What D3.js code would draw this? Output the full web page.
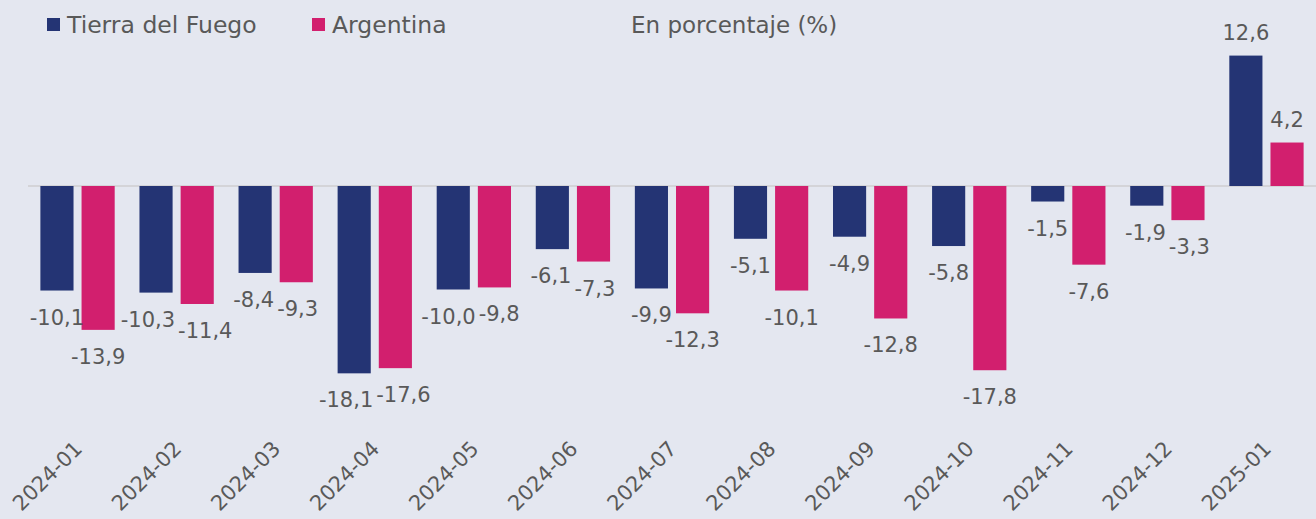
<!DOCTYPE html>
<html><head><meta charset="utf-8">
<script src="https://cdn.jsdelivr.net/npm/d3@7"></script>
<style>
html,body{margin:0;padding:0;background:#e4e7f0;}
svg{display:block;}
text{font-family:"DejaVu Sans",sans-serif;fill:#595959;}
</style></head><body>
<svg id="c" width="1316" height="519"></svg>
<script>
const categories = ["2024-01","2024-02","2024-03","2024-04","2024-05","2024-06","2024-07","2024-08","2024-09","2024-10","2024-11","2024-12","2025-01"];
const seriesNames = ["Tierra del Fuego","Argentina"];
const tdfValues = [-10.1,-10.3,-8.4,-18.1,-10.0,-6.1,-9.9,-5.1,-4.9,-5.8,-1.5,-1.9,12.6];
const argValues = [-13.9,-11.4,-9.3,-17.6,-9.8,-7.3,-12.3,-10.1,-12.8,-17.8,-7.6,-3.3,4.2];
const colors = ["#243474","#d21f6e"];
const subtitle = "En porcentaje (%)";

const svg = d3.select("#c");
const W = 1316, H = 519;
svg.append("rect").attr("width",W).attr("height",H).attr("fill","#e4e7f0");

const x0 = d3.scaleBand().domain(categories).range([28,1316]).paddingInner(0.25).paddingOuter(0.125);
const x1 = d3.scaleBand().domain(seriesNames).range([0,x0.bandwidth()]).paddingInner(0.195);
const y = d3.scaleLinear().domain([-20,15]).range([393,30.75]);

const fmt = v => d3.format(".1f")(Math.abs(v)).replace(".",",");
const lab = v => (v<0?"-":"") + fmt(v);

const data = categories.map((c,i)=>({c, vals:[{s:seriesNames[0],v:tdfValues[i],k:0},{s:seriesNames[1],v:argValues[i],k:1}]}));

// zero line
svg.append("line").attr("x1",28).attr("x2",1316).attr("y1",y(0)).attr("y2",y(0))
  .attr("stroke","#d4d4d8").attr("stroke-width",2);

const g = svg.selectAll("g.cat").data(data).join("g").attr("class","cat")
  .attr("transform",d=>`translate(${x0(d.c)},0)`);

g.selectAll("rect").data(d=>d.vals).join("rect")
  .attr("x",d=>x1(d.s)).attr("width",x1.bandwidth())
  .attr("y",d=>Math.min(y(d.v),y(0))).attr("height",d=>Math.abs(y(d.v)-y(0)))
  .attr("fill",d=>colors[d.k]);

const FS = 21;
g.each(function(d){
  const gg = d3.select(this);
  const t = gg.selectAll("text.val").data(d.vals).join("text").attr("class","val")
    .attr("text-anchor","middle").attr("font-size",FS)
    .attr("y",e=>e.v<0 ? y(e.v)+34 : y(e.v)-16)
    .text(e=>lab(e.v));
  const nodes = t.nodes();
  const cx = d.vals.map(e=>x1(e.s)+x1.bandwidth()/2);
  const w = nodes.map(n=>n.getComputedTextLength());
  const ys = d.vals.map(e=>e.v<0 ? y(e.v)+34 : y(e.v)-16);
  if (Math.abs(ys[0]-ys[1]) < FS) {
    const overlap = (cx[0]+w[0]/2) - (cx[1]-w[1]/2) + 3;
    if (overlap>0){ cx[0]-=overlap/2; cx[1]+=overlap/2; }
  }
  t.attr("x",(e,i)=>cx[i]);
});

// x axis labels
const xa = svg.append("g").attr("transform",`translate(0,${y(0)})`)
  .call(d3.axisBottom(x0).tickSize(0).tickPadding(0));
xa.select(".domain").remove();
xa.selectAll("text").attr("font-size",21).attr("fill","#595959")
  .attr("font-family","DejaVu Sans")
  .attr("text-anchor","end").attr("dy",0)
  .attr("transform",`translate(6,264) rotate(-45)`);

// legend
const leg = svg.append("g");
const lx = [47,312];
seriesNames.forEach((s,i)=>{
  leg.append("rect").attr("x",lx[i]).attr("y",18).attr("width",13).attr("height",13).attr("fill",colors[i]);
  leg.append("text").attr("x",lx[i]+20).attr("y",33).attr("font-size",23.5).text(s);
});
svg.append("text").attr("x",631).attr("y",33).attr("font-size",23).text(subtitle);
</script></body></html>
